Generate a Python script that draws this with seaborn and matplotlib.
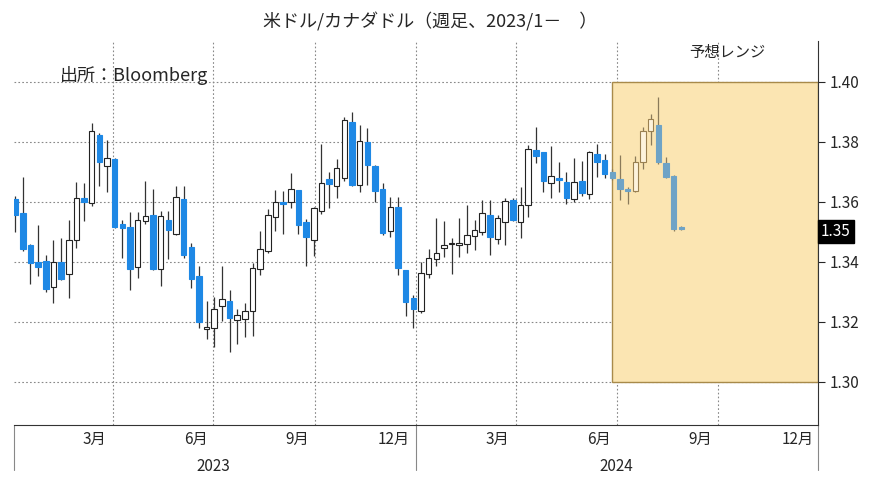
import matplotlib
matplotlib.use('Agg')
import matplotlib.pyplot as plt
import matplotlib.dates as mdates
import numpy as np
import pandas as pd
import seaborn as sns
from matplotlib.patches import Rectangle
from matplotlib.lines import Line2D

sns.set_style('white')
plt.rcParams['font.family'] = ['Noto Sans CJK JP', 'DejaVu Sans']

# --- weekly USD/CAD candles ---
opens = [1.3610, 1.3562, 1.3457, 1.3400, 1.3402, 1.3316, 1.3400, 1.3358, 1.3471, 1.3612,
         1.3596, 1.3824, 1.3720, 1.3741, 1.3527, 1.3515, 1.3383, 1.3537, 1.3555, 1.3375,
         1.3540, 1.3494, 1.3610, 1.3449, 1.3352, 1.3175, 1.3179, 1.3253, 1.3270, 1.3205,
         1.3210, 1.3236, 1.3375, 1.3435, 1.3548, 1.3598, 1.3600, 1.3638, 1.3533, 1.3473,
         1.3570, 1.3676, 1.3651, 1.3680, 1.3866, 1.3656, 1.3800, 1.3720, 1.3643, 1.3503,
         1.3584, 1.3371, 1.3278, 1.3236, 1.3358, 1.3408, 1.3446, 1.3460, 1.3457, 1.3460,
         1.3485, 1.3500, 1.3555, 1.3477, 1.3533, 1.3607, 1.3533, 1.3588, 1.3772, 1.3765,
         1.3662, 1.3676, 1.3667, 1.3610, 1.3670, 1.3627, 1.3758, 1.3739, 1.3698, 1.3676,
         1.3643, 1.3636, 1.3731, 1.3835, 1.3857, 1.3728, 1.3687, 1.3516]
closes = [1.3555, 1.3444, 1.3397, 1.3382, 1.3308, 1.3400, 1.3341, 1.3474, 1.3612, 1.3598,
          1.3835, 1.3731, 1.3745, 1.3515, 1.3513, 1.3375, 1.3538, 1.3551, 1.3375, 1.3551,
          1.3507, 1.3615, 1.3424, 1.3341, 1.3200, 1.3181, 1.3242, 1.3275, 1.3214, 1.3223,
          1.3236, 1.3378, 1.3441, 1.3555, 1.3600, 1.3592, 1.3643, 1.3524, 1.3483, 1.3580,
          1.3662, 1.3659, 1.3714, 1.3872, 1.3656, 1.3802, 1.3723, 1.3636, 1.3496, 1.3584,
          1.3380, 1.3267, 1.3242, 1.3364, 1.3411, 1.3430, 1.3455, 1.3462, 1.3458, 1.3488,
          1.3507, 1.3562, 1.3482, 1.3546, 1.3603, 1.3540, 1.3590, 1.3776, 1.3754, 1.3670,
          1.3686, 1.3674, 1.3612, 1.3667, 1.3629, 1.3765, 1.3734, 1.3692, 1.3678, 1.3643,
          1.3636, 1.3731, 1.3835, 1.3875, 1.3731, 1.3681, 1.3510, 1.3510]
highs = [1.3620, 1.3684, 1.3460, 1.3524, 1.3424, 1.3474, 1.3480, 1.3540, 1.3667, 1.3662,
         1.3864, 1.3828, 1.3805, 1.3745, 1.3540, 1.3566, 1.3566, 1.3670, 1.3643, 1.3568,
         1.3570, 1.3654, 1.3651, 1.3463, 1.3386, 1.3269, 1.3283, 1.3386, 1.3306, 1.3242,
         1.3262, 1.3396, 1.3504, 1.3577, 1.3640, 1.3636, 1.3695, 1.3640, 1.3541, 1.3584,
         1.3791, 1.3700, 1.3742, 1.3883, 1.3899, 1.3855, 1.3846, 1.3722, 1.3662, 1.3617,
         1.3617, 1.3374, 1.3290, 1.3400, 1.3441, 1.3546, 1.3537, 1.3479, 1.3546, 1.3588,
         1.3540, 1.3607, 1.3607, 1.3557, 1.3612, 1.3612, 1.3648, 1.3789, 1.3850, 1.3765,
         1.3787, 1.3734, 1.3700, 1.3745, 1.3736, 1.3770, 1.3794, 1.3760, 1.3710, 1.3756,
         1.3648, 1.3754, 1.3850, 1.3891, 1.3949, 1.3750, 1.3690, 1.3520]
lows = [1.3500, 1.3435, 1.3325, 1.3352, 1.3300, 1.3264, 1.3338, 1.3278, 1.3446, 1.3537,
        1.3585, 1.3654, 1.3634, 1.3512, 1.3413, 1.3305, 1.3345, 1.3526, 1.3372, 1.3319,
        1.3408, 1.3490, 1.3412, 1.3314, 1.3179, 1.3143, 1.3117, 1.3203, 1.3098, 1.3126,
        1.3148, 1.3154, 1.3355, 1.3428, 1.3502, 1.3494, 1.3580, 1.3494, 1.3386, 1.3419,
        1.3560, 1.3578, 1.3612, 1.3668, 1.3652, 1.3632, 1.3656, 1.3598, 1.3490, 1.3484,
        1.3356, 1.3220, 1.3180, 1.3230, 1.3345, 1.3386, 1.3417, 1.3360, 1.3416, 1.3430,
        1.3440, 1.3490, 1.3424, 1.3460, 1.3457, 1.3535, 1.3480, 1.3548, 1.3728, 1.3634,
        1.3612, 1.3634, 1.3592, 1.3600, 1.3618, 1.3608, 1.3684, 1.3680, 1.3672, 1.3607,
        1.3592, 1.3632, 1.3709, 1.3789, 1.3725, 1.3678, 1.3504, 1.3505]
weeks = pd.date_range('2023-01-02', periods=len(opens), freq='7D')
y_ticks = [1.30, 1.32, 1.34, 1.36, 1.38, 1.40]
last_price = 1.35

df = pd.DataFrame({'date': weeks, 'open': opens, 'close': closes, 'high': highs, 'low': lows})
# weekly spacing is a touch tighter in the original chart
df['x'] = mdates.date2num(df['date'][0]) + np.arange(len(df)) * 6.95
df['up'] = df['close'] >= df['open']

x0 = mdates.date2num(pd.Timestamp('2024-06-27'))
x1 = mdates.date2num(pd.Timestamp('2024-12-31'))
in_band = df['x'] >= x0 - 2

blue, band_blue = '#1e88e5', '#6ea3c6'
fig = plt.figure(figsize=(8.78, 4.86), dpi=100)
ax = fig.add_axes([0.016, 0.125, 0.916, 0.79])

# forecast range box (behind the candles)
ax.add_patch(Rectangle((x0, 1.30), x1 - x0, 0.10, facecolor='#fbe5b2',
                       edgecolor='#a88a4a', linewidth=1.0, zorder=1))

wick_c = ['#8a7a5a' if b else '#333333' for b in in_band]
ax.vlines(df['x'], df['low'], df['high'], color=wick_c, linewidth=0.9, zorder=2)
bot = np.minimum(df['open'], df['close'])
hgt = np.maximum(np.abs(df['close'] - df['open']), 0.0004)
colors, edges = [], []
for u, b in zip(df['up'], in_band):
    if u:
        colors.append('#fdf3dc' if b else 'white')
        edges.append('#9a8050' if b else '#222222')
    else:
        colors.append(band_blue if b else blue)
        edges.append(band_blue if b else blue)
ax.bar(df['x'], hgt, bottom=bot, width=5.0, color=colors, edgecolor=edges,
       linewidth=0.8, zorder=3)

ax.set_xlim(mdates.date2num(pd.Timestamp('2023-01-01')), x1)
ax.set_ylim(1.2855, 1.4135)

ax.yaxis.tick_right()
ax.set_yticks(y_ticks)
ax.set_yticklabels([f'{v:.2f}' for v in y_ticks], fontsize=11)
ax.tick_params(axis='y', length=5, direction='out', pad=3)

ax.set_xticks(mdates.date2num(pd.date_range('2023-04-01', '2024-12-01', freq='QS')))
ax.set_xticklabels([])
ax.set_xticks(mdates.date2num(pd.date_range('2023-01-01', '2024-12-01', freq='MS')), minor=True)
ax.tick_params(axis='x', which='both', length=4, direction='out')
ax.grid(True, which='major', linestyle=(0, (1.5, 2)), color='#888888', linewidth=0.8)
ax.set_axisbelow(True)
for sp in ['top', 'left']:
    ax.spines[sp].set_visible(False)
ax.spines['bottom'].set_color('#333333')
ax.spines['right'].set_color('#333333')

mlabels = ['3月', '6月', '9月', '12月', '3月', '6月', '9月', '12月']
mdates_lbl = pd.to_datetime(['2023-03-15', '2023-06-15', '2023-09-15', '2023-12-12',
                             '2024-03-15', '2024-06-15', '2024-09-15', '2024-12-12'])
for d, t in zip(mdates_lbl, mlabels):
    ax.text(mdates.date2num(d), 1.2835, t, ha='center', va='top', fontsize=11)
for d, t in zip(pd.to_datetime(['2023-07-01', '2024-07-01']), ['2023', '2024']):
    ax.text(mdates.date2num(d), 1.2745, t, ha='center', va='top', fontsize=11)
for d in pd.to_datetime(['2023-01-01', '2024-01-01', '2024-12-31']):
    xx = mdates.date2num(d)
    ax.add_line(Line2D([xx, xx], [1.2855, 1.2705], color='#888888', linewidth=0.8,
                       clip_on=False))

ax.text(1.003, (last_price - 1.2855) / (1.4135 - 1.2855), f'{last_price:.2f}',
        transform=ax.transAxes, ha='left', va='center', fontsize=11, color='white',
        bbox=dict(boxstyle='square,pad=0.2', facecolor='black', edgecolor='black'))

fig.text(0.49, 0.955, '米ドル/カナダドル（週足、2023/1－　）', ha='center', va='center', fontsize=13)
fig.text(0.068, 0.845, '出所：Bloomberg', ha='left', va='center', fontsize=13)
fig.text(0.785, 0.892, '予想レンジ', ha='left', va='center', fontsize=11)

fig.savefig('out.png', dpi=100)
